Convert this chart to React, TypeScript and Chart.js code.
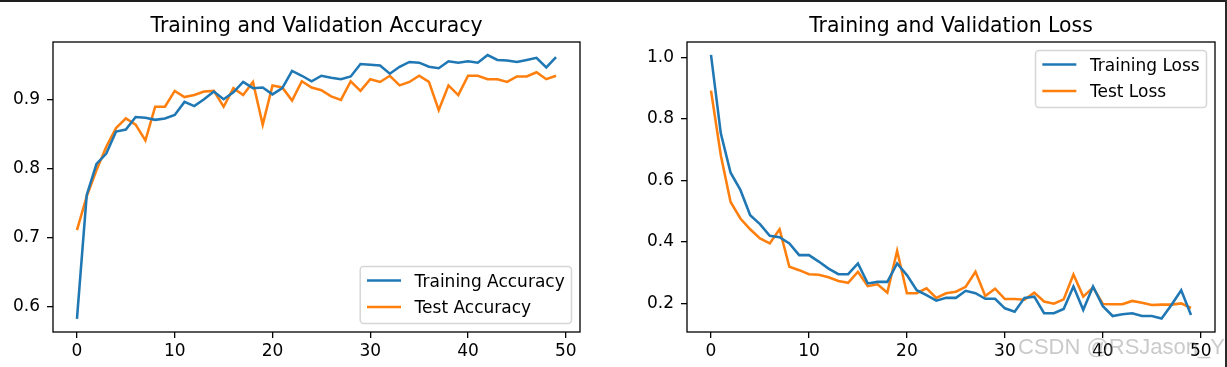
import React, { useEffect, useRef } from "react";
import { Chart, registerables } from "chart.js";

Chart.register(...registerables);

const epochs = [
  0, 1, 2, 3, 4, 5, 6, 7, 8, 9, 10, 11, 12, 13, 14, 15, 16, 17, 18, 19, 20, 21, 22, 23, 24,
  25, 26, 27, 28, 29, 30, 31, 32, 33, 34, 35, 36, 37, 38, 39, 40, 41, 42, 43, 44, 45, 46, 47, 48, 49,
];

const trainAcc = [
  0.582, 0.762, 0.807, 0.822, 0.854, 0.857, 0.875, 0.874, 0.871, 0.873,
  0.878, 0.897, 0.891, 0.901, 0.912, 0.901, 0.911, 0.926, 0.917, 0.918,
  0.908, 0.917, 0.942, 0.935, 0.927, 0.935, 0.932, 0.93, 0.934, 0.952,
  0.951, 0.95, 0.938, 0.948, 0.955, 0.954, 0.948, 0.946, 0.956, 0.954,
  0.956, 0.954, 0.965, 0.958, 0.957, 0.955, 0.958, 0.961, 0.947, 0.962,
];

const testAcc = [
  0.711, 0.76, 0.798, 0.832, 0.859, 0.873, 0.864, 0.841, 0.89, 0.89,
  0.913, 0.904, 0.907, 0.912, 0.913, 0.89, 0.917, 0.907, 0.926, 0.864,
  0.921, 0.918, 0.899, 0.927, 0.918, 0.914, 0.905, 0.9, 0.927, 0.913,
  0.93, 0.926, 0.935, 0.921, 0.926, 0.935, 0.926, 0.885, 0.921, 0.907,
  0.935, 0.935, 0.93, 0.93, 0.926, 0.934, 0.934, 0.94, 0.93, 0.935,
];

const trainLoss = [
  1.008, 0.753, 0.625, 0.569, 0.487, 0.458, 0.42, 0.415, 0.395, 0.357,
  0.357, 0.336, 0.313, 0.295, 0.295, 0.33, 0.265, 0.27, 0.27, 0.33,
  0.292, 0.243, 0.227, 0.209, 0.218, 0.218, 0.241, 0.233, 0.215, 0.215,
  0.184, 0.173, 0.218, 0.222, 0.168, 0.168, 0.182, 0.255, 0.179, 0.255,
  0.191, 0.159, 0.165, 0.168, 0.159, 0.159, 0.151, 0.195, 0.243, 0.162,
];

const testLoss = [
  0.892, 0.682, 0.53, 0.476, 0.441, 0.411, 0.395, 0.441, 0.319, 0.308,
  0.295, 0.293, 0.285, 0.273, 0.267, 0.303, 0.256, 0.262, 0.235, 0.371,
  0.233, 0.233, 0.249, 0.218, 0.233, 0.238, 0.254, 0.303, 0.224, 0.248,
  0.214, 0.214, 0.212, 0.235, 0.206, 0.199, 0.213, 0.294, 0.222, 0.252,
  0.198, 0.197, 0.197, 0.208, 0.202, 0.195, 0.196, 0.196, 0.2, 0.185,
];

const xTicks = [0, 10, 20, 30, 40, 50];
const accTicks = [0.6, 0.7, 0.8, 0.9];
const lossTicks = [0.2, 0.4, 0.6, 0.8, 1.0];

const BLUE = "#1f77b4";
const ORANGE = "#ff7f0e";
const FONT = '"DejaVu Sans", sans-serif';

type PanelProps = {
  title: string;
  labels: [string, string];
  series: [number[], number[]];
  yTicks: number[];
  yMin: number;
  yMax: number;
  legendLoc: "lower right" | "upper right";
  left: number;
  width: number;
  padRight: number;
  yAxisWidth: number;
};

function Panel(p: PanelProps) {
  const ref = useRef<HTMLCanvasElement | null>(null);
  useEffect(() => {
    const canvas = ref.current;
    if (!canvas) return;
    const colors = [BLUE, ORANGE];
    const framePlugin = {
      id: "mplFrame",
      afterDatasetsDraw(chart: any) {
        const { ctx, chartArea: a } = chart;
        ctx.save();
        ctx.strokeStyle = "#000";
        ctx.lineWidth = 1.3;
        ctx.strokeRect(a.left, a.top, a.right - a.left, a.bottom - a.top);
        ctx.fillStyle = "#000";
        ctx.font = `20.4px ${FONT}`;
        ctx.textAlign = "center";
        ctx.textBaseline = "alphabetic";
        ctx.fillText(p.title, (a.left + a.right) / 2, a.top - 10);
        ctx.font = `17px ${FONT}`;
        const maxW = Math.max(...p.labels.map((l) => ctx.measureText(l).width));
        const w = 6.8 + 34 + 13.6 + maxW + 6.8;
        const h = 57;
        const x = a.right - 8.5 - w;
        const y = p.legendLoc === "lower right" ? a.bottom - 8.5 - h : a.top + 8.5;
        ctx.beginPath();
        if ((ctx as any).roundRect) (ctx as any).roundRect(x, y, w, h, 3.4);
        else ctx.rect(x, y, w, h);
        ctx.fillStyle = "rgba(255,255,255,0.8)";
        ctx.fill();
        ctx.strokeStyle = "rgba(204,204,204,0.8)";
        ctx.lineWidth = 1.5;
        ctx.stroke();
        const rows = [y + 14, y + 40.5];
        p.labels.forEach((l, i) => {
          ctx.beginPath();
          ctx.strokeStyle = colors[i];
          ctx.lineWidth = 2.55;
          ctx.moveTo(x + 6.8, rows[i]);
          ctx.lineTo(x + 6.8 + 34, rows[i]);
          ctx.stroke();
          ctx.fillStyle = "#000";
          ctx.textAlign = "left";
          ctx.fillText(l, x + 6.8 + 34 + 13.6, rows[i] + 6.3);
        });
        ctx.restore();
      },
    };
    const chart = new Chart(canvas, {
      type: "line",
      data: {
        datasets: p.series.map((s, i) => ({
          label: p.labels[i],
          data: s.map((v, k) => ({ x: epochs[k], y: v })),
          borderColor: colors[i],
          backgroundColor: colors[i],
          borderWidth: 2.55,
          pointRadius: 0,
          tension: 0,
          fill: false,
        })),
      },
      options: {
        animation: false,
        responsive: false,
        maintainAspectRatio: false,
        events: [],
        layout: { padding: { left: 0, right: p.padRight, top: 42, bottom: 0 } },
        plugins: {
          legend: { display: false },
          title: { display: false },
          tooltip: { enabled: false },
        },
        scales: {
          x: {
            type: "linear",
            min: -2.45,
            max: 51.45,
            afterBuildTicks: (s: any) => {
              s.ticks = xTicks.map((v) => ({ value: v }));
            },
            afterFit: (s: any) => {
              s.height = 35;
            },
            grid: {
              drawOnChartArea: false,
              drawTicks: true,
              tickLength: 6,
              color: "#000",
              lineWidth: 1.3,
            },
            border: { display: false },
            ticks: {
              font: { family: FONT, size: 17 },
              color: "#000",
              padding: 3,
              maxRotation: 0,
              autoSkip: false,
              callback: (v: any) => String(v),
            },
          },
          y: {
            type: "linear",
            min: p.yMin,
            max: p.yMax,
            afterBuildTicks: (s: any) => {
              s.ticks = p.yTicks.map((v) => ({ value: v }));
            },
            afterFit: (s: any) => {
              s.width = p.yAxisWidth;
            },
            grid: {
              drawOnChartArea: false,
              drawTicks: true,
              tickLength: 6,
              color: "#000",
              lineWidth: 1.3,
            },
            border: { display: false },
            ticks: {
              font: { family: FONT, size: 17 },
              color: "#000",
              padding: 7,
              autoSkip: false,
              callback: (v: any) => Number(v).toFixed(1),
            },
          },
        },
      },
      plugins: [framePlugin],
    } as any);
    return () => chart.destroy();
  }, []);
  return (
    <canvas
      ref={ref}
      width={p.width}
      height={367}
      style={{ position: "absolute", left: p.left, top: 0, width: p.width, height: 367 }}
    />
  );
}

export default function App() {
  return (
    <div
      style={{
        position: "absolute",
        left: 0,
        top: 0,
        width: 1227,
        height: 367,
        background: "#fff",
        overflow: "hidden",
      }}
    >
      <Panel
        title="Training and Validation Accuracy"
        labels={["Training Accuracy", "Test Accuracy"]}
        series={[trainAcc, testAcc]}
        yTicks={accTicks}
        yMin={0.563}
        yMax={0.984}
        legendLoc="lower right"
        left={0}
        width={613}
        padRight={33}
        yAxisWidth={53}
      />
      <Panel
        title="Training and Validation Loss"
        labels={["Training Loss", "Test Loss"]}
        series={[trainLoss, testLoss]}
        yTicks={lossTicks}
        yMin={0.107}
        yMax={1.05}
        legendLoc="upper right"
        left={634}
        width={593}
        padRight={12}
        yAxisWidth={53}
      />
      <div
        style={{
          position: "absolute",
          left: 1018,
          top: 336,
          fontFamily: '"Liberation Sans", Arial, sans-serif',
          fontSize: 22,
          lineHeight: "22px",
          color: "rgba(128,128,128,0.42)",
          whiteSpace: "nowrap",
        }}
      >
        CSDN @RSJason_Y
      </div>
      <div style={{ position: "absolute", left: 0, top: 0, width: 1227, height: 2, background: "#1e1e1e" }} />
      <div style={{ position: "absolute", left: 1225, top: 0, width: 2, height: 367, background: "#2a2a2a" }} />
    </div>
  );
}
